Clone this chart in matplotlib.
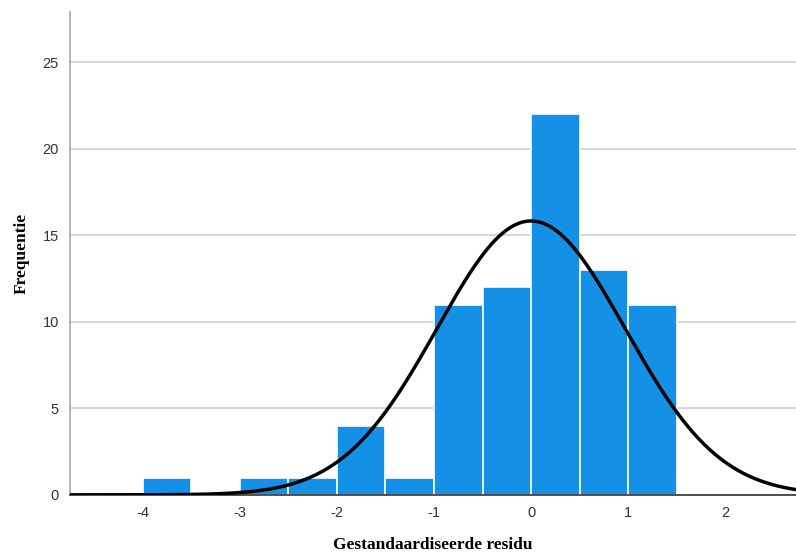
import numpy as np
import matplotlib.pyplot as plt

plt.rcParams['axes.unicode_minus'] = False

# Data
bin_edges = [-4.0, -3.5, -3.0, -2.5, -2.0, -1.5, -1.0, -0.5, 0.0, 0.5, 1.0, 1.5]
counts = [1, 0, 1, 1, 4, 1, 11, 12, 22, 13, 11]
resid_mean = 0.0
resid_sd = 0.97
yticks = [0, 5, 10, 15, 20, 25]
xticks = [-4, -3, -2, -1, 0, 1, 2]

fig = plt.figure(figsize=(7.96, 5.56), dpi=100)
ax = fig.add_axes([0.088, 0.11, 0.912, 0.868])

lefts = bin_edges[:-1]
widths = np.diff(bin_edges)
ax.bar(lefts, counts, width=widths, align='edge', color='#1490e6',
       edgecolor='white', linewidth=1.2, zorder=2)

# normal curve
n = sum(counts)
bw = widths[0]
xs = np.linspace(-4.75, 2.75, 400)
ys = n * bw / (resid_sd * np.sqrt(2 * np.pi)) * np.exp(-(xs - resid_mean) ** 2 / (2 * resid_sd ** 2))
ax.plot(xs, ys, color='black', linewidth=2.5, zorder=3)

ax.set_xlim(-4.75, 2.73)
ax.set_ylim(0, 27.9)
ax.set_yticks(yticks)
ax.set_xticks(xticks)
ax.yaxis.grid(True, color='#d0d0d0', linewidth=1.2, zorder=0)
ax.set_axisbelow(True)
ax.tick_params(length=0, labelsize=10.5, colors='#333333', pad=8)
for lab in ax.get_xticklabels() + ax.get_yticklabels():
    lab.set_family('Liberation Sans')

for s in ['top', 'right']:
    ax.spines[s].set_visible(False)
ax.spines['left'].set_color('#aaaaaa')
ax.spines['left'].set_linewidth(1.2)
ax.spines['bottom'].set_color('#333333')
ax.spines['bottom'].set_linewidth(1.2)

ax.set_xlabel('Gestandaardiseerde residu', fontsize=12.5, fontweight='bold',
              family='Liberation Serif', labelpad=12)
ax.set_ylabel('Frequentie', fontsize=12.5, fontweight='bold',
              family='Liberation Serif', labelpad=9)

fig.savefig('out.png', dpi=100)
